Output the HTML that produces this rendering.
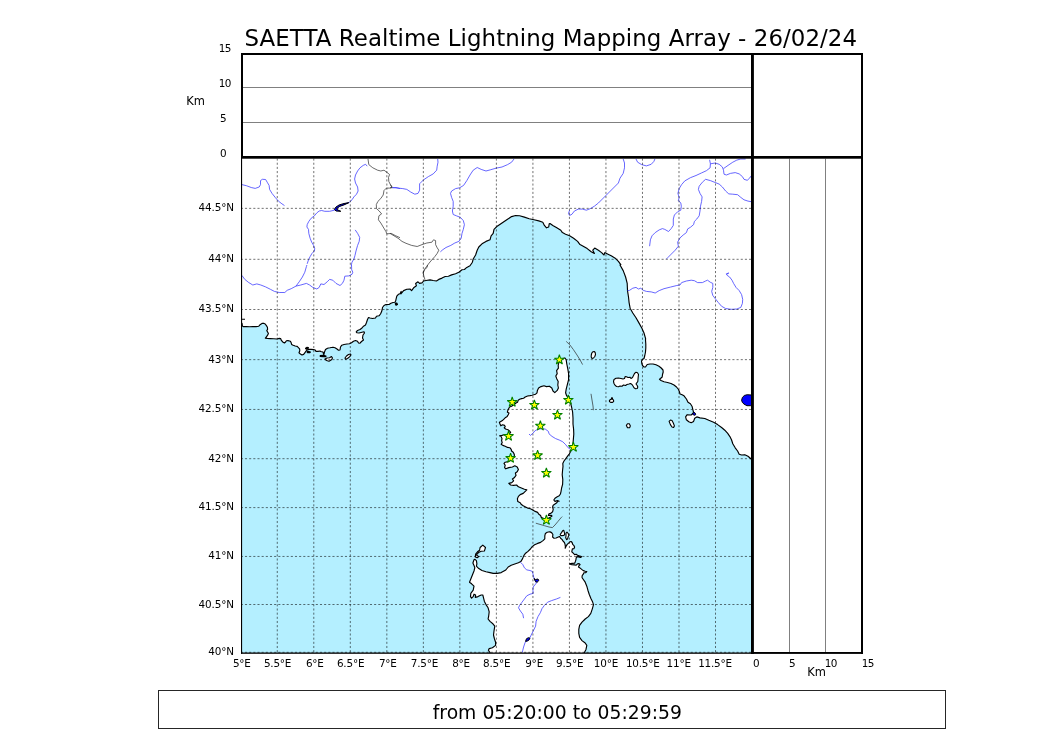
<!DOCTYPE html>
<html lang="en"><head><meta charset="utf-8"><title>SAETTA Realtime Lightning Mapping Array</title>
<style>html,body{margin:0;padding:0;background:#fff;overflow:hidden}svg{display:block}text{font-family:"DejaVu Sans","Liberation Sans",sans-serif;fill:#000}</style></head><body>
<svg width="1050" height="750" viewBox="0 0 1050 750">
<rect width="1050" height="750" fill="#fff"/>
<defs><clipPath id="mapclip"><rect x="241.5" y="157.5" width="511" height="495.6"/></clipPath></defs>
<g clip-path="url(#mapclip)">
<path d="M230.0,323.2 L241.0,323.2 L242.0,323.4 L242.4,326.0 L243.2,326.6 L246.4,326.6 L249.6,326.8 L252.8,326.6 L256.0,326.6 L258.8,326.2 L260.4,324.4 L262.0,323.4 L263.6,323.2 L265.2,324.0 L266.4,325.6 L267.4,327.2 L267.6,329.2 L266.8,330.6 L267.6,332.0 L268.4,333.6 L267.6,335.2 L266.4,336.8 L265.4,338.2 L267.2,338.4 L270.4,338.6 L273.6,338.8 L276.8,339.0 L279.2,338.4 L280.6,338.6 L281.4,340.4 L282.8,342.0 L284.4,343.0 L285.6,342.0 L286.4,340.8 L288.0,340.6 L290.4,341.2 L291.2,342.8 L291.6,344.4 L293.2,345.2 L295.2,346.0 L297.2,346.4 L298.4,347.6 L299.6,348.8 L299.8,350.8 L299.0,352.8 L300.4,354.0 L302.0,355.0 L303.6,354.4 L304.8,352.8 L306.0,351.2 L307.2,350.0 L308.8,349.2 L311.2,349.4 L313.6,349.6 L315.2,350.0 L316.0,351.4 L318.0,351.4 L320.0,351.0 L320.5,351.5 L323.0,352.0 L323.8,354.8 L324.5,352.0 L325.5,349.5 L327.5,348.2 L330.0,347.8 L333.0,347.2 L335.0,347.8 L337.0,349.0 L338.5,350.2 L340.0,350.0 L340.5,347.0 L341.8,345.2 L344.0,344.5 L347.0,344.0 L349.5,343.8 L351.5,342.8 L353.5,341.2 L355.5,340.5 L357.5,341.2 L358.5,343.0 L360.0,343.2 L361.5,341.5 L363.5,340.0 L362.5,338.0 L363.0,335.0 L364.5,333.0 L364.0,331.8 L362.0,332.2 L359.0,333.0 L357.0,332.8 L356.2,331.8 L357.5,330.5 L360.0,329.5 L362.0,328.0 L363.5,326.2 L365.5,325.0 L366.5,322.5 L367.5,319.5 L368.5,317.5 L370.0,318.0 L372.5,318.5 L375.5,318.0 L376.5,316.2 L379.0,315.8 L380.5,314.0 L381.5,311.8 L382.2,309.5 L382.5,307.5 L384.0,305.5 L386.0,304.5 L389.0,304.5 L391.0,303.2 L393.0,302.5 L395.0,302.2 L395.8,300.5 L396.0,299.4 L396.8,296.2 L398.4,294.3 L400.0,293.8 L401.2,291.4 L400.9,293.8 L403.6,290.6 L406.8,289.3 L410.0,289.0 L411.6,290.6 L414.0,287.4 L416.4,285.8 L415.6,283.4 L418.0,281.8 L419.6,283.4 L422.0,282.9 L423.6,281.0 L426.0,280.5 L430.0,279.9 L433.2,280.5 L436.4,281.0 L438.8,279.4 L442.0,278.1 L445.2,276.5 L448.4,276.2 L451.6,274.9 L455.6,273.8 L458.8,272.2 L462.0,269.8 L464.4,269.5 L466.8,267.4 L470.0,265.8 L472.4,262.2 L473.2,259.0 L475.6,255.0 L477.2,250.2 L478.8,247.0 L482.0,243.8 L486.0,241.4 L490.0,239.8 L491.1,235.8 L493.2,233.4 L494.0,229.4 L497.2,226.2 L502.0,223.0 L506.8,219.8 L511.6,216.6 L515.6,215.5 L519.6,215.8 L524.4,217.1 L529.2,218.7 L534.0,219.8 L538.8,220.9 L542.8,222.2 L544.4,225.4 L546.5,227.8 L548.7,227.0 L549.2,223.8 L550.0,223.5 L552.8,225.4 L556.8,227.8 L560.8,230.2 L562.4,232.6 L565.6,234.2 L569.6,235.8 L573.6,238.2 L577.6,241.4 L580.0,244.6 L583.2,246.2 L587.2,248.6 L591.2,251.8 L594.4,253.4 L592.8,250.2 L594.7,248.1 L598.4,250.2 L601.6,252.6 L604.0,255.0 L604.8,252.6 L608.0,254.2 L611.2,255.8 L615.2,258.2 L618.4,261.4 L620.8,264.6 L620.0,265.0 L623.2,270.6 L625.6,277.0 L627.2,283.4 L627.5,290.6 L628.5,297.0 L629.1,302.6 L630.1,308.2 L632.8,313.0 L636.0,317.8 L639.2,323.4 L641.9,328.2 L644.0,333.0 L645.6,338.6 L645.5,340.0 L645.8,344.0 L645.8,348.0 L645.5,352.0 L644.8,355.5 L644.0,358.5 L642.5,359.5 L641.5,361.0 L641.8,363.5 L642.5,365.5 L644.0,367.0 L645.5,367.0 L646.5,365.5 L647.2,364.5 L650.0,364.0 L653.0,364.0 L656.0,364.8 L659.0,366.2 L661.2,368.0 L663.0,370.0 L663.2,372.0 L662.5,374.5 L662.2,377.0 L660.5,378.5 L659.5,379.2 L661.0,380.5 L664.0,381.8 L667.5,382.5 L671.0,383.5 L674.0,385.0 L676.5,387.0 L678.5,389.5 L679.5,392.0 L680.0,394.0 L681.6,394.5 L684.0,395.8 L686.4,399.0 L688.0,402.2 L690.4,403.8 L692.0,406.2 L692.8,409.4 L693.6,412.6 L691.2,415.0 L687.2,414.7 L685.6,416.9 L686.4,419.8 L688.8,421.7 L691.2,422.7 L693.6,421.4 L694.7,418.2 L696.8,416.9 L700.0,417.9 L704.8,418.5 L708.8,420.3 L713.6,422.2 L717.6,424.6 L721.6,427.5 L724.8,430.2 L727.7,433.4 L729.9,436.6 L731.5,439.8 L732.8,443.8 L735.2,447.8 L737.6,451.0 L739.2,454.2 L741.6,455.0 L744.8,454.7 L748.0,456.3 L751.2,459.0 L753.6,460.6 L765.0,460.6 L765.0,665.0 L584.1,665.0 L584.1,654.2 L584.4,652.6 L586.0,649.4 L586.8,645.4 L585.2,643.0 L582.0,640.6 L579.6,637.4 L578.8,633.4 L578.8,629.4 L579.6,625.4 L582.0,622.2 L585.2,619.0 L588.4,616.6 L590.8,613.4 L592.4,608.6 L593.5,604.6 L592.4,601.4 L590.8,598.2 L589.2,594.2 L587.9,590.2 L586.8,586.2 L585.2,582.2 L582.3,578.0 L582.0,577.0 L582.3,575.4 L583.3,574.2 L583.9,572.8 L585.8,572.6 L586.8,571.6 L585.2,571.3 L583.3,570.6 L581.7,569.4 L580.1,568.1 L578.5,567.1 L578.8,565.8 L580.1,564.6 L579.1,563.6 L577.5,563.9 L576.2,565.2 L574.3,564.9 L571.8,564.6 L569.5,563.9 L572.1,563.4 L574.6,563.3 L575.3,561.7 L575.9,559.8 L576.2,557.8 L576.9,556.6 L578.8,556.9 L580.4,557.5 L581.7,556.8 L580.7,556.2 L579.1,555.9 L577.5,555.3 L576.2,554.3 L574.6,554.6 L573.7,553.7 L572.7,552.7 L571.8,551.8 L572.1,550.2 L572.4,548.9 L574.0,548.6 L574.6,547.0 L574.0,545.7 L572.7,544.4 L572.1,542.5 L571.1,541.5 L569.8,541.8 L568.6,543.1 L567.2,544.4 L566.1,546.3 L565.2,548.2 L565.4,546.6 L565.0,544.1 L564.4,542.5 L563.1,541.2 L562.2,539.6 L560.6,538.3 L559.6,536.4 L558.3,537.0 L556.1,538.0 L553.8,538.2 L552.6,537.0 L552.9,534.5 L551.6,532.6 L550.0,531.9 L549.6,531.8 L547.2,532.2 L545.4,533.4 L544.8,535.8 L544.8,538.8 L543.0,540.6 L540.6,542.4 L537.6,543.4 L534.6,544.8 L532.2,546.6 L530.4,549.0 L528.0,551.4 L525.6,553.2 L523.8,555.6 L522.6,558.6 L520.8,561.6 L518.4,562.8 L514.8,564.0 L511.2,565.2 L508.2,567.0 L505.8,570.0 L501.2,572.6 L497.2,573.4 L493.2,573.4 L490.0,572.6 L486.0,571.8 L482.0,570.5 L478.8,568.6 L476.4,566.2 L476.9,563.8 L476.4,560.6 L474.8,559.3 L474.0,559.8 L472.9,563.0 L474.0,565.4 L474.8,567.8 L474.0,571.0 L472.4,575.0 L471.1,578.2 L469.5,582.2 L471.6,583.8 L474.0,586.2 L473.2,590.2 L470.8,593.4 L470.5,596.6 L471.6,598.2 L473.2,596.6 L474.0,594.2 L475.6,595.0 L475.3,597.4 L478.0,596.6 L481.2,595.0 L482.8,595.0 L483.6,598.2 L484.4,601.4 L486.0,604.6 L488.1,607.8 L489.2,611.8 L488.7,615.8 L488.1,619.0 L490.0,621.4 L492.9,623.8 L494.8,626.2 L494.0,631.0 L493.5,635.0 L494.5,639.0 L495.6,642.2 L495.6,645.4 L492.4,647.8 L489.2,648.6 L488.4,650.2 L490.0,652.6 L490.0,654.2 L490.0,665.0 L230.0,665.0Z" fill="#b4efff" stroke="none"/>
<path d="M241.0,323.2 L242.0,323.4 L242.4,326.0 L243.2,326.6 L246.4,326.6 L249.6,326.8 L252.8,326.6 L256.0,326.6 L258.8,326.2 L260.4,324.4 L262.0,323.4 L263.6,323.2 L265.2,324.0 L266.4,325.6 L267.4,327.2 L267.6,329.2 L266.8,330.6 L267.6,332.0 L268.4,333.6 L267.6,335.2 L266.4,336.8 L265.4,338.2 L267.2,338.4 L270.4,338.6 L273.6,338.8 L276.8,339.0 L279.2,338.4 L280.6,338.6 L281.4,340.4 L282.8,342.0 L284.4,343.0 L285.6,342.0 L286.4,340.8 L288.0,340.6 L290.4,341.2 L291.2,342.8 L291.6,344.4 L293.2,345.2 L295.2,346.0 L297.2,346.4 L298.4,347.6 L299.6,348.8 L299.8,350.8 L299.0,352.8 L300.4,354.0 L302.0,355.0 L303.6,354.4 L304.8,352.8 L306.0,351.2 L307.2,350.0 L308.8,349.2 L311.2,349.4 L313.6,349.6 L315.2,350.0 L316.0,351.4 L318.0,351.4 L320.0,351.0 L320.5,351.5 L323.0,352.0 L323.8,354.8 L324.5,352.0 L325.5,349.5 L327.5,348.2 L330.0,347.8 L333.0,347.2 L335.0,347.8 L337.0,349.0 L338.5,350.2 L340.0,350.0 L340.5,347.0 L341.8,345.2 L344.0,344.5 L347.0,344.0 L349.5,343.8 L351.5,342.8 L353.5,341.2 L355.5,340.5 L357.5,341.2 L358.5,343.0 L360.0,343.2 L361.5,341.5 L363.5,340.0 L362.5,338.0 L363.0,335.0 L364.5,333.0 L364.0,331.8 L362.0,332.2 L359.0,333.0 L357.0,332.8 L356.2,331.8 L357.5,330.5 L360.0,329.5 L362.0,328.0 L363.5,326.2 L365.5,325.0 L366.5,322.5 L367.5,319.5 L368.5,317.5 L370.0,318.0 L372.5,318.5 L375.5,318.0 L376.5,316.2 L379.0,315.8 L380.5,314.0 L381.5,311.8 L382.2,309.5 L382.5,307.5 L384.0,305.5 L386.0,304.5 L389.0,304.5 L391.0,303.2 L393.0,302.5 L395.0,302.2 L395.8,300.5 L396.0,299.4 L396.8,296.2 L398.4,294.3 L400.0,293.8 L401.2,291.4 L400.9,293.8 L403.6,290.6 L406.8,289.3 L410.0,289.0 L411.6,290.6 L414.0,287.4 L416.4,285.8 L415.6,283.4 L418.0,281.8 L419.6,283.4 L422.0,282.9 L423.6,281.0 L426.0,280.5 L430.0,279.9 L433.2,280.5 L436.4,281.0 L438.8,279.4 L442.0,278.1 L445.2,276.5 L448.4,276.2 L451.6,274.9 L455.6,273.8 L458.8,272.2 L462.0,269.8 L464.4,269.5 L466.8,267.4 L470.0,265.8 L472.4,262.2 L473.2,259.0 L475.6,255.0 L477.2,250.2 L478.8,247.0 L482.0,243.8 L486.0,241.4 L490.0,239.8 L491.1,235.8 L493.2,233.4 L494.0,229.4 L497.2,226.2 L502.0,223.0 L506.8,219.8 L511.6,216.6 L515.6,215.5 L519.6,215.8 L524.4,217.1 L529.2,218.7 L534.0,219.8 L538.8,220.9 L542.8,222.2 L544.4,225.4 L546.5,227.8 L548.7,227.0 L549.2,223.8 L550.0,223.5 L552.8,225.4 L556.8,227.8 L560.8,230.2 L562.4,232.6 L565.6,234.2 L569.6,235.8 L573.6,238.2 L577.6,241.4 L580.0,244.6 L583.2,246.2 L587.2,248.6 L591.2,251.8 L594.4,253.4 L592.8,250.2 L594.7,248.1 L598.4,250.2 L601.6,252.6 L604.0,255.0 L604.8,252.6 L608.0,254.2 L611.2,255.8 L615.2,258.2 L618.4,261.4 L620.8,264.6 L620.0,265.0 L623.2,270.6 L625.6,277.0 L627.2,283.4 L627.5,290.6 L628.5,297.0 L629.1,302.6 L630.1,308.2 L632.8,313.0 L636.0,317.8 L639.2,323.4 L641.9,328.2 L644.0,333.0 L645.6,338.6 L645.5,340.0 L645.8,344.0 L645.8,348.0 L645.5,352.0 L644.8,355.5 L644.0,358.5 L642.5,359.5 L641.5,361.0 L641.8,363.5 L642.5,365.5 L644.0,367.0 L645.5,367.0 L646.5,365.5 L647.2,364.5 L650.0,364.0 L653.0,364.0 L656.0,364.8 L659.0,366.2 L661.2,368.0 L663.0,370.0 L663.2,372.0 L662.5,374.5 L662.2,377.0 L660.5,378.5 L659.5,379.2 L661.0,380.5 L664.0,381.8 L667.5,382.5 L671.0,383.5 L674.0,385.0 L676.5,387.0 L678.5,389.5 L679.5,392.0 L680.0,394.0 L681.6,394.5 L684.0,395.8 L686.4,399.0 L688.0,402.2 L690.4,403.8 L692.0,406.2 L692.8,409.4 L693.6,412.6 L691.2,415.0 L687.2,414.7 L685.6,416.9 L686.4,419.8 L688.8,421.7 L691.2,422.7 L693.6,421.4 L694.7,418.2 L696.8,416.9 L700.0,417.9 L704.8,418.5 L708.8,420.3 L713.6,422.2 L717.6,424.6 L721.6,427.5 L724.8,430.2 L727.7,433.4 L729.9,436.6 L731.5,439.8 L732.8,443.8 L735.2,447.8 L737.6,451.0 L739.2,454.2 L741.6,455.0 L744.8,454.7 L748.0,456.3 L751.2,459.0 L753.6,460.6" fill="none" stroke="#000" stroke-width="1.15" stroke-linejoin="round"/>
<path d="M584.1,654.2 L584.4,652.6 L586.0,649.4 L586.8,645.4 L585.2,643.0 L582.0,640.6 L579.6,637.4 L578.8,633.4 L578.8,629.4 L579.6,625.4 L582.0,622.2 L585.2,619.0 L588.4,616.6 L590.8,613.4 L592.4,608.6 L593.5,604.6 L592.4,601.4 L590.8,598.2 L589.2,594.2 L587.9,590.2 L586.8,586.2 L585.2,582.2 L582.3,578.0 L582.0,577.0 L582.3,575.4 L583.3,574.2 L583.9,572.8 L585.8,572.6 L586.8,571.6 L585.2,571.3 L583.3,570.6 L581.7,569.4 L580.1,568.1 L578.5,567.1 L578.8,565.8 L580.1,564.6 L579.1,563.6 L577.5,563.9 L576.2,565.2 L574.3,564.9 L571.8,564.6 L569.5,563.9 L572.1,563.4 L574.6,563.3 L575.3,561.7 L575.9,559.8 L576.2,557.8 L576.9,556.6 L578.8,556.9 L580.4,557.5 L581.7,556.8 L580.7,556.2 L579.1,555.9 L577.5,555.3 L576.2,554.3 L574.6,554.6 L573.7,553.7 L572.7,552.7 L571.8,551.8 L572.1,550.2 L572.4,548.9 L574.0,548.6 L574.6,547.0 L574.0,545.7 L572.7,544.4 L572.1,542.5 L571.1,541.5 L569.8,541.8 L568.6,543.1 L567.2,544.4 L566.1,546.3 L565.2,548.2 L565.4,546.6 L565.0,544.1 L564.4,542.5 L563.1,541.2 L562.2,539.6 L560.6,538.3 L559.6,536.4 L558.3,537.0 L556.1,538.0 L553.8,538.2 L552.6,537.0 L552.9,534.5 L551.6,532.6 L550.0,531.9 L549.6,531.8 L547.2,532.2 L545.4,533.4 L544.8,535.8 L544.8,538.8 L543.0,540.6 L540.6,542.4 L537.6,543.4 L534.6,544.8 L532.2,546.6 L530.4,549.0 L528.0,551.4 L525.6,553.2 L523.8,555.6 L522.6,558.6 L520.8,561.6 L518.4,562.8 L514.8,564.0 L511.2,565.2 L508.2,567.0 L505.8,570.0 L501.2,572.6 L497.2,573.4 L493.2,573.4 L490.0,572.6 L486.0,571.8 L482.0,570.5 L478.8,568.6 L476.4,566.2 L476.9,563.8 L476.4,560.6 L474.8,559.3 L474.0,559.8 L472.9,563.0 L474.0,565.4 L474.8,567.8 L474.0,571.0 L472.4,575.0 L471.1,578.2 L469.5,582.2 L471.6,583.8 L474.0,586.2 L473.2,590.2 L470.8,593.4 L470.5,596.6 L471.6,598.2 L473.2,596.6 L474.0,594.2 L475.6,595.0 L475.3,597.4 L478.0,596.6 L481.2,595.0 L482.8,595.0 L483.6,598.2 L484.4,601.4 L486.0,604.6 L488.1,607.8 L489.2,611.8 L488.7,615.8 L488.1,619.0 L490.0,621.4 L492.9,623.8 L494.8,626.2 L494.0,631.0 L493.5,635.0 L494.5,639.0 L495.6,642.2 L495.6,645.4 L492.4,647.8 L489.2,648.6 L488.4,650.2 L490.0,652.6 L490.0,654.2" fill="none" stroke="#000" stroke-width="1.15" stroke-linejoin="round"/>
<path d="M565.0,358.0 L564.4,358.0 L562.0,359.2 L559.0,362.2 L558.2,365.2 L558.4,368.2 L556.6,370.6 L557.2,373.6 L555.8,376.0 L556.6,378.4 L558.2,381.4 L557.8,385.0 L558.4,388.0 L557.2,390.4 L554.8,392.6 L553.0,391.0 L551.8,388.0 L549.4,386.2 L546.4,386.6 L544.0,385.8 L541.0,386.6 L538.6,388.0 L537.4,390.4 L537.0,392.8 L535.6,394.2 L532.0,395.2 L530.0,395.6 L527.6,396.0 L525.2,397.0 L523.6,398.2 L521.6,398.6 L519.6,399.2 L518.2,400.2 L517.6,402.2 L516.0,403.0 L514.0,404.6 L511.6,406.2 L509.6,407.0 L508.6,408.8 L507.8,410.6 L507.4,412.2 L509.0,413.0 L508.2,414.8 L507.2,416.4 L505.6,417.4 L504.2,418.8 L502.8,420.2 L500.8,421.4 L499.4,422.2 L500.0,424.0 L500.8,425.8 L502.6,424.8 L504.6,425.4 L505.2,426.6 L504.2,427.8 L505.6,429.0 L508.0,429.8 L510.0,431.4 L510.6,432.6 L509.2,433.8 L506.8,434.4 L504.0,434.8 L502.0,435.4 L499.6,435.8 L501.2,436.6 L502.0,438.6 L501.6,440.6 L502.2,442.6 L501.2,444.2 L502.8,445.4 L505.2,446.2 L507.6,447.4 L510.0,447.8 L511.2,449.4 L511.6,451.0 L513.2,452.2 L514.0,453.8 L514.4,455.0 L514.2,456.8 L511.8,458.0 L510.6,460.4 L508.2,461.6 L505.2,462.2 L504.0,463.4 L505.2,465.2 L504.6,467.6 L505.8,468.8 L508.8,467.6 L512.4,467.0 L514.8,465.8 L517.2,467.0 L518.4,469.4 L517.2,471.8 L515.4,473.0 L516.0,475.4 L514.2,477.8 L512.4,479.0 L513.6,480.8 L511.8,482.6 L508.8,483.4 L510.6,485.0 L513.6,485.4 L516.6,485.0 L518.4,486.8 L521.4,488.0 L524.4,489.2 L526.8,489.8 L525.0,491.6 L523.2,493.4 L520.2,494.6 L518.4,496.4 L517.4,498.8 L517.8,501.6 L520.2,502.8 L521.4,504.6 L523.2,505.8 L525.6,507.0 L528.0,508.2 L530.4,508.8 L532.8,510.0 L535.2,511.4 L537.6,512.4 L538.8,514.2 L540.6,515.4 L541.2,517.2 L543.0,518.2 L543.6,518.4 L545.4,519.6 L547.8,519.0 L548.4,518.2 L550.2,517.4 L552.0,516.0 L551.4,515.4 L548.4,515.4 L549.0,513.8 L550.8,513.4 L552.6,511.8 L553.2,509.4 L552.6,507.0 L553.2,505.2 L555.0,504.0 L556.8,502.8 L558.0,501.0 L559.2,501.2 L557.4,500.6 L555.0,501.4 L553.8,500.0 L555.0,498.2 L556.8,497.0 L559.2,495.8 L560.4,494.0 L561.0,491.6 L561.6,488.0 L562.6,484.4 L562.8,479.6 L562.2,474.8 L562.6,470.0 L563.0,466.4 L562.8,463.4 L564.0,461.0 L565.8,458.6 L567.6,456.2 L569.4,453.8 L571.0,450.8 L572.2,447.2 L573.0,443.6 L573.4,438.8 L573.8,434.0 L573.6,429.2 L573.0,424.0 L573.0,418.0 L572.6,412.0 L571.6,407.2 L570.4,402.4 L568.6,397.6 L566.6,395.8 L565.6,392.8 L566.2,389.2 L567.4,384.4 L568.6,379.6 L568.6,373.6 L567.8,368.8 L566.8,364.0 L566.2,359.8 L565.0,358.0Z" fill="#fff" stroke="#000" stroke-width="1.15" stroke-linejoin="round"/>
<path d="M613.5,381.5 L614.0,379.5 L616.0,378.3 L618.5,378.0 L621.0,378.5 L623.0,379.0 L624.5,378.5 L625.2,376.5 L626.5,376.8 L628.0,377.5 L630.0,377.2 L631.0,378.5 L632.5,377.5 L633.5,375.5 L634.5,373.5 L636.0,372.2 L637.5,372.8 L638.5,374.5 L638.2,377.0 L638.0,379.5 L637.8,381.5 L636.8,382.8 L636.0,384.0 L637.2,385.5 L637.8,387.0 L637.2,388.5 L635.5,388.7 L634.0,387.8 L633.0,386.0 L632.0,384.5 L630.5,383.5 L629.0,384.0 L627.0,384.5 L625.5,385.5 L623.5,385.0 L622.0,386.2 L620.0,386.0 L618.5,386.8 L616.5,386.5 L615.0,385.2 L614.0,383.5Z" fill="#fff" stroke="#000" stroke-width="1.1" stroke-linejoin="round"/>
<path d="M591.8,353.0 L592.8,351.8 L594.2,351.5 L595.2,352.5 L595.5,354.5 L594.8,356.5 L593.5,358.0 L592.0,358.5 L591.2,357.0 L591.3,355.0Z" fill="#fff" stroke="#000" stroke-width="1.1" stroke-linejoin="round"/>
<path d="M609.4,400.6 L610.2,399.6 L611.3,399.4 L611.5,397.7 L612.4,397.7 L612.6,399.4 L613.5,400.0 L613.7,401.4 L612.6,402.4 L610.6,402.4 L609.5,401.6Z" fill="#fff" stroke="#000" stroke-width="1.1" stroke-linejoin="round"/>
<path d="M626.4,425.4 L627.5,423.8 L629.3,423.8 L630.4,425.9 L629.6,427.8 L627.5,427.8Z" fill="#fff" stroke="#000" stroke-width="1.1" stroke-linejoin="round"/>
<path d="M669.1,421.4 L670.4,420.1 L672.0,420.6 L673.3,423.0 L674.4,425.9 L673.6,427.5 L672.0,427.0 L670.4,424.6Z" fill="#fff" stroke="#000" stroke-width="1.1" stroke-linejoin="round"/>
<path d="M480.1,547.5 L482.8,545.1 L485.5,547.5 L484.4,551.0 L481.2,551.3 L478.5,552.6 L476.4,555.0 L478.8,556.6 L477.2,557.7 L475.3,557.1 L475.6,554.2 L477.5,551.8 L479.6,550.2Z" fill="#fff" stroke="#000" stroke-width="1.1" stroke-linejoin="round"/>
<path d="M560.2,534.5 L561.5,532.6 L562.8,530.6 L563.8,530.3 L564.4,532.6 L564.7,534.5 L563.8,535.4 L561.8,535.6 L560.6,535.4Z" fill="#fff" stroke="#000" stroke-width="1.1" stroke-linejoin="round"/>
<path d="M566.0,533.2 L567.0,532.2 L568.2,533.5 L568.9,535.1 L568.2,536.7 L567.6,539.0 L566.6,539.6 L565.7,537.7 L566.0,535.8Z" fill="#fff" stroke="#000" stroke-width="1.1" stroke-linejoin="round"/>
<path d="M325.0,359.0 L327.0,358.0 L329.5,357.8 L331.5,356.5 L332.5,358.0 L331.5,359.8 L329.0,361.2 L326.5,360.5Z" fill="#fff" stroke="#000" stroke-width="1.1" stroke-linejoin="round"/>
<path d="M345.0,358.0 L346.5,356.0 L348.5,354.5 L350.5,354.0 L351.0,355.0 L349.5,356.8 L347.5,358.5 L345.5,359.2Z" fill="#fff" stroke="#000" stroke-width="1.1" stroke-linejoin="round"/>
<path d="M241.0,319.2 L245.0,319.2" fill="#000" stroke="#000" stroke-width="1.1" stroke-linejoin="round"/>
<path d="M305.2,348.4 L306.8,347.4 L308.4,347.6 L308.0,348.8 L306.4,349.2 L305.2,348.4" fill="#000" stroke="#000" stroke-width="1.1" stroke-linejoin="round"/>
<path d="M306.8,351.6 L308.8,351.4 L310.4,352.0 L309.6,352.8 L307.6,352.6 L306.8,351.6" fill="#000" stroke="#000" stroke-width="1.1" stroke-linejoin="round"/>
<path d="M320.0,355.5 L323.0,355.3 L326.0,356.0 L325.8,356.8 L323.0,356.6 L320.2,356.5 L320.0,355.5" fill="#000" stroke="#000" stroke-width="1.1" stroke-linejoin="round"/>
<path d="M395.0,303.2 L396.8,303.0 L397.5,304.5 L396.0,305.2 L395.0,303.2" fill="#000" stroke="#000" stroke-width="1.1" stroke-linejoin="round"/>
<g fill="none" stroke="#4040ff" stroke-width="0.8" stroke-linejoin="round">
<path d="M241.9,184.6 L246.4,185.7 L251.2,187.5 L255.2,188.4 L259.2,187.0 L260.5,184.6 L260.5,180.6 L262.4,179.3 L265.6,179.5 L267.2,182.2 L269.1,185.4 L269.6,189.4 L272.0,193.4 L275.2,197.4 L278.4,201.1 L281.9,203.8 L284.5,205.6"/>
<path d="M367.2,166.2 L365.6,164.3 L363.2,165.4 L360.0,167.8 L357.6,171.0 L355.5,175.0 L354.6,179.0 L355.5,183.0 L357.6,187.0 L358.1,191.0 L356.5,194.2 L353.9,196.9 L352.0,199.8 L349.6,202.2 L342.4,204.6 L334.4,210.2 L329.6,211.3 L324.8,211.3 L321.6,210.5 L319.2,211.0 L316.8,212.9 L314.4,215.8 L311.2,218.2 L308.8,221.4 L307.2,224.6 L306.9,227.0 L308.5,229.4 L308.8,233.4 L310.1,238.2 L311.7,242.2 L313.6,245.4 L314.7,248.6 L314.4,251.0 L312.0,253.4 L310.1,256.6 L308.5,259.8 L307.2,263.8"/>
<path d="M355.2,229.9 L357.6,233.4 L359.7,237.4 L359.2,241.4 L357.6,245.4 L356.0,251.0 L354.9,255.8 L353.9,259.0 L352.0,262.2 L351.2,265.4"/>
<path d="M392.0,187.8 L396.0,187.5 L400.0,188.6"/>
<path d="M241.9,275.4 L244.8,279.4 L248.8,282.6 L252.8,285.0 L256.8,283.9 L260.8,285.0 L265.6,286.9 L270.4,289.3 L274.4,291.4 L279.2,292.5 L284.8,292.5 L287.2,290.3 L291.2,288.7 L296.0,286.1 L299.2,281.8 L302.4,277.0 L304.8,272.2 L306.4,266.6 L306.9,265.0"/>
<path d="M296.0,286.1 L300.8,285.0 L306.4,283.4 L309.6,285.0 L312.8,287.4 L316.8,289.0 L319.2,287.4 L320.8,283.9 L324.0,284.5 L327.2,281.8 L329.6,279.4 L332.8,280.2 L336.0,283.4 L340.0,285.5 L342.4,283.4 L344.0,280.2 L344.8,276.2 L348.8,275.9 L352.0,274.3 L352.8,272.2 L351.7,269.8 L351.5,265.0"/>
<path d="M392.4,187.5 L398.0,188.1 L402.8,188.6 L406.8,189.4 L410.8,192.1 L414.8,194.2 L418.0,193.4 L419.6,190.2 L419.6,183.8 L423.6,179.8 L428.4,176.6 L433.2,173.9 L436.7,170.2 L437.2,166.2 L438.0,162.2 L437.7,159.0"/>
<path d="M514.0,159.0 L511.6,162.2 L507.6,164.6 L502.0,167.0 L496.4,168.1 L490.8,169.7 L486.0,171.0 L481.2,169.4 L477.2,167.5 L473.2,170.2 L470.0,175.0 L466.8,180.6 L463.6,185.4 L459.6,187.8 L455.6,188.6 L451.6,191.0 L450.5,193.4 L451.6,197.4 L453.2,201.4 L453.2,206.2 L452.4,211.0 L453.2,214.5 L456.4,215.8 L460.4,217.4 L463.3,220.6 L464.4,224.6 L463.3,229.4 L462.0,233.4 L461.2,238.2 L458.8,241.4 L454.8,243.0 L450.8,245.4 L446.0,247.5 L442.8,249.7 L440.4,251.8"/>
<path d="M623.2,159.0 L624.5,163.0 L624.5,167.8 L623.2,173.4 L620.0,178.2 L618.4,183.0 L614.4,187.0 L610.4,191.0 L606.4,195.0 L602.4,199.0 L598.4,203.0 L594.4,206.2 L590.4,208.6 L586.4,210.2 L582.4,209.1 L578.4,209.1 L574.4,211.0 L572.0,214.2 L569.6,215.5 L568.5,213.4 L569.6,210.2"/>
<path d="M636.0,159.0 L637.6,162.2 L641.6,164.6 L646.4,165.9 L651.2,164.3 L653.9,161.4 L654.9,159.0"/>
<path d="M709.6,159.8 L710.4,163.8 L710.1,167.8 L706.4,170.7 L701.6,172.9 L696.0,175.5 L690.4,177.7 L684.8,180.9 L681.6,184.6 L679.2,188.6 L677.9,193.4 L679.2,197.4 L678.4,200.6 L680.8,203.0 L681.3,206.2 L680.8,210.2 L677.6,211.8 L674.4,215.0 L673.3,219.0 L673.3,225.4 L671.2,228.6 L668.5,231.5 L664.8,229.4 L662.4,228.6 L659.2,229.9 L655.2,232.6 L652.0,235.8 L650.4,239.8 L649.6,246.2"/>
<path d="M751.2,201.7 L748.0,201.1 L744.0,199.8 L740.8,197.4 L737.6,194.7 L732.8,194.2 L728.8,193.9 L725.6,191.0 L722.4,187.0 L719.2,184.1 L715.2,182.5 L710.4,180.6 L705.6,179.3 L702.4,182.2 L699.2,186.2 L698.4,189.4 L700.0,193.4 L702.1,196.9 L701.6,201.4 L700.5,206.2 L700.0,211.0 L699.2,215.8 L696.8,219.0 L694.4,221.4 L693.6,224.6 L690.4,227.3 L687.7,228.9 L686.4,232.6 L683.2,235.0 L680.0,237.9 L677.6,242.2 L678.4,246.2 L675.2,250.2 L671.2,254.2 L668.0,257.4 L666.4,259.0"/>
<path d="M710.4,163.8 L715.2,163.0 L719.2,164.3 L722.4,167.0 L723.5,170.2 L724.0,174.2 L726.4,175.0 L730.4,173.4 L735.2,172.6 L739.2,173.9 L742.4,176.6 L744.0,179.3 L747.2,180.3 L749.6,178.2 L751.2,175.8"/>
<path d="M723.5,168.6 L728.0,165.4 L732.8,162.2 L736.8,160.1 L740.8,159.0 L745.6,159.0"/>
<path d="M726.4,274.2 L728.8,273.1"/>
<path d="M627.5,290.6 L629.6,290.3 L632.8,288.2 L636.0,287.4 L638.4,289.0 L640.8,288.2 L643.2,290.3 L646.4,291.4 L651.2,291.9 L655.2,293.0 L659.2,290.6 L664.0,288.7 L670.4,287.1 L676.8,285.5 L680.0,285.0 L681.6,282.6 L686.4,281.0 L691.2,280.2 L694.4,280.7 L697.6,282.6 L702.4,282.6 L705.6,281.0 L707.5,280.2 L710.4,282.3 L712.8,283.4 L712.8,287.4 L711.7,291.4 L712.8,295.4 L715.2,298.6 L718.4,302.6 L721.6,306.3 L725.6,308.5 L731.2,309.3 L736.8,309.0 L740.8,307.4 L742.4,303.4 L742.7,299.4 L741.6,294.6 L739.2,290.6 L736.0,287.4 L733.6,283.4 L732.0,280.2 L729.6,277.0 L727.2,275.4 L726.4,273.8 L728.8,273.0"/>
<path d="M529.0,434.0 L530.4,435.4 L532.8,433.4 L535.2,430.6 L538.2,429.2 L542.4,428.6 L545.4,429.2 L548.4,431.4 L549.0,433.8 L552.0,436.4 L555.6,438.6 L559.2,440.0 L562.8,441.8 L565.8,444.8 L568.2,447.8 L570.0,449.0"/>
<path d="M520.4,562.2 L522.8,564.6 L524.4,567.8 L526.8,569.9 L530.0,570.5 L532.4,571.5 L533.2,575.0 L534.0,578.2 L536.4,583.0 L533.2,587.0 L532.9,590.2 L533.2,593.4 L530.0,594.2 L526.8,595.8 L524.4,599.0 L522.0,602.2 L519.6,605.4 L518.5,607.8 L520.4,611.0 L522.8,614.2 L523.6,618.2"/>
<path d="M560.4,597.4 L556.4,599.0 L551.6,600.6 L547.6,602.2 L544.4,605.4 L542.0,608.6 L540.4,612.6 L538.0,616.6 L536.1,621.4 L535.6,626.2 L533.2,631.0 L530.8,635.8 L529.2,639.0 L525.2,642.2 L523.6,647.0 L522.8,650.2 L522.3,652.6"/>
</g>
<g fill="none" stroke="#2a2a2a" stroke-width="0.7" stroke-linejoin="round">
<path d="M368.0,159.0 L368.8,164.6 L372.8,167.8 L377.6,170.2 L380.8,171.0 L384.0,170.2 L387.2,172.6 L389.6,174.5 L388.5,177.4 L388.8,181.4 L390.4,184.6 L392.0,187.5 L389.6,188.1 L386.4,188.1 L384.0,190.5 L383.2,195.0 L380.8,198.5 L377.9,201.4 L376.3,204.6 L376.5,208.6 L379.2,211.0 L381.6,213.9 L378.9,215.8 L378.4,219.8 L380.8,223.0 L383.2,227.0 L385.9,231.5 L386.9,233.9 L391.2,233.4 L395.2,235.5 L400.0,237.7"/>
<path d="M390.0,184.6 L391.9,186.2 L391.6,187.8 L390.0,187.8"/>
<path d="M390.0,233.4 L394.0,235.8 L398.0,238.2 L402.0,241.4 L406.0,243.3 L411.6,245.4 L417.2,246.5 L422.0,244.6 L426.8,243.0 L431.9,242.2 L433.5,239.8 L435.6,240.6 L435.6,244.6 L437.2,247.8 L438.8,250.2 L437.2,253.4 L434.8,256.6 L431.9,259.8 L429.2,263.0 L426.8,266.2 L424.4,269.4 L423.3,272.6 L423.6,275.0"/>
<path d="M427.6,265.0 L427.1,267.4 L424.4,269.8 L423.1,273.0 L423.9,276.2 L424.9,279.4 L423.6,281.0"/>
<path d="M566.2,341.4 L569.8,344.8 L573.4,349.6 L577.0,355.0 L580.0,359.8 L582.6,364.6"/>
<path d="M591.0,393.8 L592.0,400.0 L593.0,406.0 L593.4,410.2"/>
<path d="M535.8,523.2 L540.0,524.4 L544.8,525.8 L549.0,527.0 L552.4,527.6 L555.0,525.0 L558.0,521.4 L561.0,517.8 L562.2,516.6"/>
</g>
<path d="M741.6,400.3 L742.4,397.4 L744.3,395.5 L747.2,394.7 L751.2,395.0 L753.6,395.8 L753.6,405.4 L750.4,405.7 L746.9,405.7 L744.0,404.1 L742.4,402.5Z" fill="#0000ff" stroke="#000" stroke-width="1" stroke-linejoin="round"/>
<path d="M692.5,414.2 L693.6,412.1 L695.2,413.1 L695.7,414.7 L694.4,415.3Z" fill="#0000ff" stroke="#000" stroke-width="1" stroke-linejoin="round"/>
<path d="M348.8,202.7 L344.0,203.5 L339.2,204.9 L336.0,207.0 L334.4,209.4 L336.0,211.0 L340.8,211.3 L337.6,209.9 L336.8,208.6 L339.2,206.5 L344.0,204.9Z" fill="#0000ff" stroke="#000" stroke-width="1" stroke-linejoin="round"/>
<path d="M534.0,578.5 L535.6,579.5 L538.0,579.0 L538.8,580.6 L537.2,582.2 L535.6,581.7Z" fill="#0000ff" stroke="#000" stroke-width="1" stroke-linejoin="round"/>
<path d="M525.5,641.4 L526.5,638.7 L528.4,637.7 L530.0,638.2 L529.2,639.8 L527.6,640.9Z" fill="#0000ff" stroke="#000" stroke-width="1" stroke-linejoin="round"/>
<g fill="none" stroke="#000" stroke-width="0.56" stroke-dasharray="2.083 2.083">
<path d="M277.27,652.20 V150"/>
<path d="M313.79,652.20 V150"/>
<path d="M350.31,652.20 V150"/>
<path d="M386.83,652.20 V150"/>
<path d="M423.35,652.20 V150"/>
<path d="M459.87,652.20 V150"/>
<path d="M496.39,652.20 V150"/>
<path d="M532.91,652.20 V150"/>
<path d="M569.43,652.20 V150"/>
<path d="M605.95,652.20 V150"/>
<path d="M642.47,652.20 V150"/>
<path d="M678.99,652.20 V150"/>
<path d="M715.51,652.20 V150"/>
<path d="M240.80,652.30 H760"/>
<path d="M240.80,604.50 H760"/>
<path d="M240.80,556.45 H760"/>
<path d="M240.80,507.60 H760"/>
<path d="M240.80,458.70 H760"/>
<path d="M240.80,409.45 H760"/>
<path d="M240.80,359.65 H760"/>
<path d="M240.80,309.50 H760"/>
<path d="M240.80,259.30 H760"/>
<path d="M240.80,208.35 H760"/>
</g>
<path d="M559.36,354.60 L560.53,358.19 L564.31,358.19 L561.25,360.41 L562.42,364.01 L559.36,361.79 L556.31,364.01 L557.47,360.41 L554.42,358.19 L558.20,358.19Z" fill="#ffff00" stroke="#008000" stroke-width="1.04" stroke-linejoin="bevel"/>
<path d="M512.20,396.96 L513.37,400.56 L517.15,400.56 L514.09,402.78 L515.26,406.37 L512.20,404.15 L509.14,406.37 L510.31,402.78 L507.26,400.56 L511.03,400.56Z" fill="#ffff00" stroke="#008000" stroke-width="1.04" stroke-linejoin="bevel"/>
<path d="M534.40,399.84 L535.57,403.44 L539.35,403.44 L536.29,405.66 L537.46,409.25 L534.40,407.03 L531.35,409.25 L532.51,405.66 L529.46,403.44 L533.23,403.44Z" fill="#ffff00" stroke="#008000" stroke-width="1.04" stroke-linejoin="bevel"/>
<path d="M568.36,394.80 L569.53,398.40 L573.31,398.40 L570.25,400.62 L571.42,404.21 L568.36,401.99 L565.31,404.21 L566.47,400.62 L563.42,398.40 L567.20,398.40Z" fill="#ffff00" stroke="#008000" stroke-width="1.04" stroke-linejoin="bevel"/>
<path d="M557.44,409.80 L558.61,413.40 L562.39,413.40 L559.33,415.62 L560.50,419.21 L557.44,416.99 L554.39,419.21 L555.55,415.62 L552.50,413.40 L556.28,413.40Z" fill="#ffff00" stroke="#008000" stroke-width="1.04" stroke-linejoin="bevel"/>
<path d="M540.36,420.64 L541.53,424.23 L545.31,424.23 L542.25,426.45 L543.42,430.05 L540.36,427.83 L537.31,430.05 L538.47,426.45 L535.42,424.23 L539.19,424.23Z" fill="#ffff00" stroke="#008000" stroke-width="1.04" stroke-linejoin="bevel"/>
<path d="M508.56,430.96 L509.73,434.55 L513.51,434.55 L510.45,436.77 L511.62,440.37 L508.56,438.15 L505.50,440.37 L506.67,436.77 L503.62,434.55 L507.39,434.55Z" fill="#ffff00" stroke="#008000" stroke-width="1.04" stroke-linejoin="bevel"/>
<path d="M573.36,442.00 L574.53,445.59 L578.31,445.59 L575.25,447.82 L576.42,451.41 L573.36,449.19 L570.31,451.41 L571.47,447.82 L568.42,445.59 L572.20,445.59Z" fill="#ffff00" stroke="#008000" stroke-width="1.04" stroke-linejoin="bevel"/>
<path d="M537.60,450.16 L538.77,453.75 L542.55,453.75 L539.49,455.98 L540.66,459.57 L537.60,457.35 L534.55,459.57 L535.71,455.98 L532.66,453.75 L536.43,453.75Z" fill="#ffff00" stroke="#008000" stroke-width="1.04" stroke-linejoin="bevel"/>
<path d="M510.60,453.04 L511.77,456.64 L515.55,456.64 L512.49,458.86 L513.66,462.45 L510.60,460.23 L507.54,462.45 L508.71,458.86 L505.66,456.64 L509.43,456.64Z" fill="#ffff00" stroke="#008000" stroke-width="1.04" stroke-linejoin="bevel"/>
<path d="M546.36,467.80 L547.53,471.40 L551.31,471.40 L548.25,473.62 L549.42,477.21 L546.36,474.99 L543.31,477.21 L544.47,473.62 L541.42,471.40 L545.20,471.40Z" fill="#ffff00" stroke="#008000" stroke-width="1.04" stroke-linejoin="bevel"/>
<path d="M546.36,515.00 L547.53,518.59 L551.31,518.59 L548.25,520.82 L549.42,524.41 L546.36,522.19 L543.31,524.41 L544.47,520.82 L541.42,518.59 L545.20,518.59Z" fill="#ffff00" stroke="#008000" stroke-width="1.04" stroke-linejoin="bevel"/>
</g>
<g fill="#808080">
<rect x="243" y="87" width="508" height="1"/>
<rect x="243" y="122" width="508" height="1"/>
<rect x="789" y="158.7" width="1" height="494"/>
<rect x="825" y="158.7" width="1" height="494"/>
</g>
<g fill="#000">
<rect x="241" y="53" width="622" height="2"/>
<rect x="241" y="156" width="622" height="2.7"/>
<rect x="241" y="53" width="2" height="105"/>
<rect x="751" y="53" width="2.9" height="601"/>
<rect x="861" y="53" width="2" height="601"/>
<rect x="751" y="652" width="112" height="1.9"/>
<rect x="241" y="158" width="1.1" height="495.8"/>
<rect x="241" y="652.5" width="511" height="1.3"/>
</g>
<text x="244.60" y="45.90" font-size="22.92" text-anchor="start" letter-spacing="0.057">SAETTA Realtime Lightning Mapping Array - 26/02/24</text>
<text x="218.70" y="51.90" font-size="10.42" text-anchor="start" letter-spacing="-0.600">15</text>
<text x="218.70" y="87.00" font-size="10.42" text-anchor="start" letter-spacing="-0.600">10</text>
<text x="220.10" y="122.10" font-size="10.42" text-anchor="start">5</text>
<text x="220.10" y="157.10" font-size="10.42" text-anchor="start">0</text>
<text x="195.60" y="105.20" font-size="11.46" text-anchor="middle">Km</text>
<text x="233.98" y="655.00" font-size="10.42" text-anchor="end" letter-spacing="-0.120">40°N</text>
<text x="233.98" y="608.00" font-size="10.42" text-anchor="end" letter-spacing="-0.120">40.5°N</text>
<text x="233.98" y="559.00" font-size="10.42" text-anchor="end" letter-spacing="-0.120">41°N</text>
<text x="233.98" y="510.00" font-size="10.42" text-anchor="end" letter-spacing="-0.120">41.5°N</text>
<text x="233.98" y="462.00" font-size="10.42" text-anchor="end" letter-spacing="-0.120">42°N</text>
<text x="233.98" y="412.00" font-size="10.42" text-anchor="end" letter-spacing="-0.120">42.5°N</text>
<text x="233.98" y="363.00" font-size="10.42" text-anchor="end" letter-spacing="-0.120">43°N</text>
<text x="233.98" y="312.00" font-size="10.42" text-anchor="end" letter-spacing="-0.120">43.5°N</text>
<text x="233.98" y="262.00" font-size="10.42" text-anchor="end" letter-spacing="-0.120">44°N</text>
<text x="233.98" y="211.00" font-size="10.42" text-anchor="end" letter-spacing="-0.120">44.5°N</text>
<text x="241.80" y="667.10" font-size="10.42" text-anchor="middle" letter-spacing="-0.200">5°E</text>
<text x="277.57" y="667.10" font-size="10.42" text-anchor="middle" letter-spacing="-0.200">5.5°E</text>
<text x="314.79" y="667.10" font-size="10.42" text-anchor="middle" letter-spacing="-0.200">6°E</text>
<text x="350.61" y="667.10" font-size="10.42" text-anchor="middle" letter-spacing="-0.200">6.5°E</text>
<text x="387.83" y="667.10" font-size="10.42" text-anchor="middle" letter-spacing="-0.200">7°E</text>
<text x="424.45" y="667.10" font-size="10.42" text-anchor="middle" letter-spacing="-0.200">7.5°E</text>
<text x="461.07" y="667.10" font-size="10.42" text-anchor="middle" letter-spacing="-0.200">8°E</text>
<text x="496.69" y="667.10" font-size="10.42" text-anchor="middle" letter-spacing="-0.200">8.5°E</text>
<text x="534.11" y="667.10" font-size="10.42" text-anchor="middle" letter-spacing="-0.200">9°E</text>
<text x="569.73" y="667.10" font-size="10.42" text-anchor="middle" letter-spacing="-0.200">9.5°E</text>
<text x="605.95" y="667.10" font-size="10.42" text-anchor="middle" letter-spacing="-0.200">10°E</text>
<text x="642.77" y="667.10" font-size="10.42" text-anchor="middle" letter-spacing="-0.200">10.5°E</text>
<text x="678.69" y="667.10" font-size="10.42" text-anchor="middle" letter-spacing="-0.200">11°E</text>
<text x="715.01" y="667.10" font-size="10.42" text-anchor="middle" letter-spacing="-0.200">11.5°E</text>
<text x="753.10" y="667.10" font-size="10.42" text-anchor="start">0</text>
<text x="788.90" y="667.10" font-size="10.42" text-anchor="start">5</text>
<text x="824.85" y="667.10" font-size="10.42" text-anchor="start" letter-spacing="-0.600">10</text>
<text x="861.75" y="667.10" font-size="10.42" text-anchor="start" letter-spacing="-0.600">15</text>
<text x="816.70" y="675.70" font-size="11.46" text-anchor="middle">Km</text>
<rect x="158.5" y="690.5" width="787" height="38" fill="#fff" stroke="#262626" stroke-width="1"/>
<text x="432.70" y="718.80" font-size="18.75" text-anchor="start" letter-spacing="0.020">from 05:20:00 to 05:29:59</text>
</svg></body></html>
